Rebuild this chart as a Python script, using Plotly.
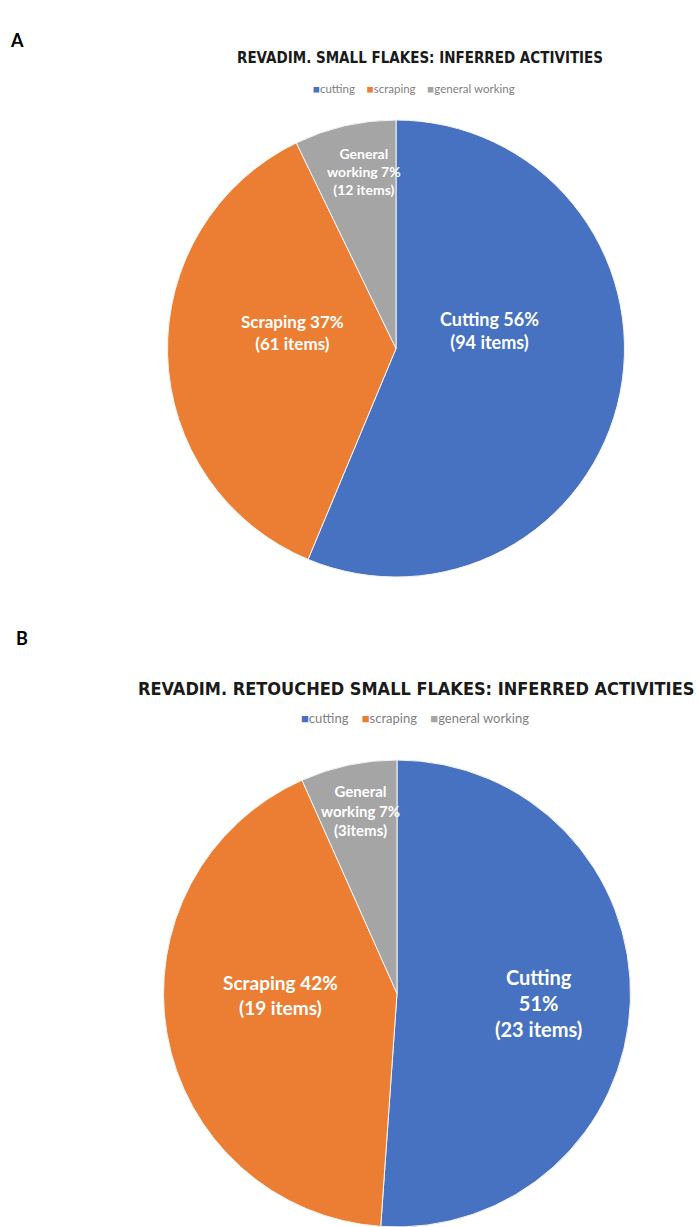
import plotly.graph_objects as go

# ---- data ----
categories = ["cutting", "scraping", "general working"]
colors = ["#4672C1", "#EB7E33", "#A5A5A5"]

title_a = "REVADIM. SMALL FLAKES: INFERRED ACTIVITIES"
values_a = [94, 61, 12]
names_a = ["Cutting", "Scraping", "General<br>working"]

title_b = "REVADIM. RETOUCHED SMALL FLAKES: INFERRED ACTIVITIES"
values_b = [23, 19, 3]
names_b = ["Cutting<br>", "Scraping", "General<br>working"]
items_sep_b = [" ", " ", ""]

W, H = 699, 1227
TITLE_FONT = "Liberation Sans Narrow, DejaVu Sans Condensed, Arial Narrow, sans-serif"
LABEL_FONT = "Lato, Open Sans, sans-serif"


def px_x(x):
    return x / W


def px_y(y):
    return 1 - y / H


def pct(vals):
    tot = sum(vals)
    return [int(round(100 * v / tot)) for v in vals]


fig = go.Figure()

# pie A : centre (396,348) r 229
fig.add_trace(go.Pie(
    labels=categories, values=values_a, sort=False, direction="clockwise", rotation=0,
    marker=dict(colors=colors, line=dict(color="#f4f4f4", width=1)),
    textinfo="none", hoverinfo="label+value+percent", showlegend=False,
    domain=dict(x=[px_x(167), px_x(625)], y=[px_y(577), px_y(120)]),
))
# pie B : centre (397,993) r 234
fig.add_trace(go.Pie(
    labels=categories, values=values_b, sort=False, direction="clockwise", rotation=0,
    marker=dict(colors=colors, line=dict(color="#f4f4f4", width=1)),
    textinfo="none", hoverinfo="label+value+percent", showlegend=False,
    domain=dict(x=[px_x(163), px_x(631)], y=[0, px_y(760)]),
))

ann = []
# panel letters
ann.append(dict(text="<b>A</b>", x=px_x(17), y=px_y(40), font=dict(size=18, family="Lato, sans-serif", color="black")))
ann.append(dict(text="<b>B</b>", x=px_x(22), y=px_y(638), font=dict(size=18, family="Lato, sans-serif", color="black")))
# titles
ann.append(dict(text="<b>" + title_a + "</b>", x=px_x(420), y=px_y(58), font=dict(size=15, family=TITLE_FONT, color="#1a1a1a")))
ann.append(dict(text="<b>" + title_b + "</b>", x=px_x(416), y=px_y(688), font=dict(size=18, family=TITLE_FONT, color="#1a1a1a")))


def legend_text():
    parts = []
    for c, col in zip(categories, colors):
        parts.append('<span style="color:%s">■</span>%s' % (col, c))
    return "    ".join(parts)


ann.append(dict(text=legend_text(), x=px_x(414), y=px_y(88), font=dict(size=11.5, family=LABEL_FONT, color="#7f7f7f")))
ann.append(dict(text=legend_text(), x=px_x(415), y=px_y(718), font=dict(size=13, family=LABEL_FONT, color="#7f7f7f")))

# slice labels A
pa = pct(values_a)
lab_pos_a = [(489, 330), (292, 332), (364, 171)]
lab_size_a = [18, 17, 14]
for i in range(3):
    t = "<b>%s %d%%<br>(%d items)</b>" % (names_a[i], pa[i], values_a[i])
    ann.append(dict(text=t, x=px_x(lab_pos_a[i][0]), y=px_y(lab_pos_a[i][1]),
                    font=dict(size=lab_size_a[i], family=LABEL_FONT, color="white")))

# slice labels B
pb = pct(values_b)
lab_pos_b = [(538, 1003), (280, 995), (360, 810)]
lab_size_b = [20, 19, 15]
for i in range(3):
    t = "<b>%s %d%%<br>(%d%sitems)</b>" % (names_b[i], pb[i], values_b[i], items_sep_b[i])
    t = t.replace("<br> ", "<br>")
    ann.append(dict(text=t, x=px_x(lab_pos_b[i][0]), y=px_y(lab_pos_b[i][1]),
                    font=dict(size=lab_size_b[i], family=LABEL_FONT, color="white")))

for a in ann:
    a.update(xref="paper", yref="paper", showarrow=False, xanchor="center", yanchor="middle")

fig.update_layout(
    width=W, height=H, margin=dict(l=0, r=0, t=0, b=0),
    paper_bgcolor="white", plot_bgcolor="white",
    annotations=ann, showlegend=False,
)

fig.write_html("out.html")
